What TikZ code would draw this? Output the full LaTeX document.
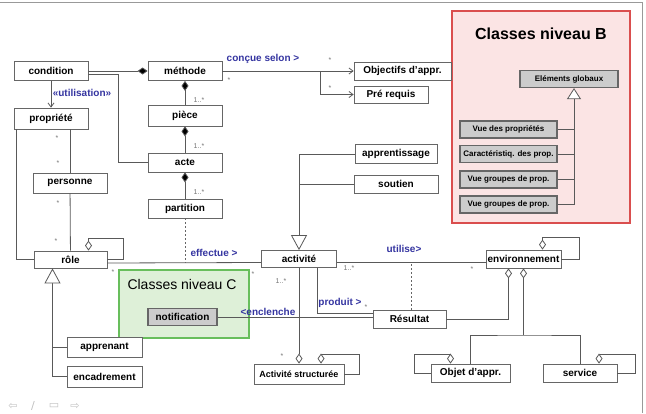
\documentclass[tikz,border=0pt]{standalone}
\usepackage{fontspec}
\setmainfont{Liberation Sans}
\newfontfamily\symbfont{DejaVu Sans}
\usetikzlibrary{arrows.meta}
\definecolor{labelblue}{RGB}{52,52,160}
\definecolor{pinkfill}{RGB}{251,228,228}
\definecolor{pinkline}{RGB}{218,78,78}
\definecolor{greenfill}{RGB}{222,240,216}
\definecolor{greenline}{RGB}{104,190,92}
\tikzstyle{classe}=[rectangle, draw=black!60, fill=white, line width=0.8, minimum width=74, minimum height=19, inner sep=1, font=\bfseries\fontsize{10}{12}\selectfont]
\tikzstyle{vue}=[rectangle, draw=black!60, fill=black!20, line width=1.2, minimum width=97, minimum height=17, inner sep=1, font=\bfseries\fontsize{8}{10}\selectfont]
\tikzstyle{niveau}=[rectangle, line width=1.2, inner sep=0]
\tikzstyle{titre}=[font=\bfseries\fontsize{16}{18}\selectfont]
\tikzstyle{etiq}=[text=labelblue, inner sep=0, font=\bfseries\fontsize{10}{12}\selectfont]
\tikzstyle{mult}=[text=black!55, inner sep=0, font=\fontsize{7}{8}\selectfont]
\tikzstyle{nav}=[text=black!25, inner sep=0, font=\symbfont\fontsize{11}{12}\selectfont]
\tikzstyle{lien}=[draw=black!65, line width=0.8]
\tikzstyle{fleche}=[lien, -{Straight Barb[length=4pt, width=6pt]}]
\tikzstyle{compo}=[lien, -{Diamond[fill=black, length=10pt, width=7pt]}]
\tikzstyle{agreg}=[lien, -{Diamond[fill=white, length=10pt, width=7pt]}]
\tikzstyle{herit}=[lien, -{Triangle[fill=white, length=15pt, width=16pt]}]
\tikzstyle{heritB}=[lien, -{Triangle[fill=white, length=11pt, width=14pt]}]
\tikzstyle{assocclasse}=[draw=black!60, line width=0.9, dash pattern=on 2pt off 2pt]

\begin{document}
\begin{tikzpicture}[x=1pt, y=-1pt]
		\useasboundingbox (0,0) rectangle (646,413);
		\draw[black!40, line width=1] (0,2) -- (642.5,2) -- (642.5,413);

		\node (niveauB) [niveau, draw=pinkline, fill=pinkfill, minimum width=178, minimum height=212] at (541,117) {};
		\node (titreB) [titre] at (541,34) {Classes niveau B};
		\node (niveauC) [niveau, draw=greenline, fill=greenfill, minimum width=130, minimum height=68] at (184,304) {};
		\node (titreC) [font=\fontsize{14}{16}\selectfont] at (182,284) {Classes niveau C};

		\node (condition) [classe] at (51,71) {condition};
		\node (methode) [classe] at (185,71) {méthode};
		\node (objectifs) [classe, minimum width=97, minimum height=18] at (402.5,71) {Objectifs d'appr.};
		\node (prerequis) [classe, minimum height=17] at (391,94.5) {Pré requis};
		\node (propriete) [classe, minimum height=21] at (51,118.5) {propriété};
		\node (piece) [classe, minimum height=21] at (185,115.5) {pièce};
		\node (acte) [classe] at (185,162.5) {acte};
		\node (partition) [classe] at (185,208.5) {partition};
		\node (personne) [classe, minimum height=20] at (70,183) {personne};
		\node (role) [classe, minimum width=73, minimum height=17] at (70.5,259.5) {rôle};
		\node (apprenant) [classe, minimum width=75, minimum height=20] at (104.5,347) {apprenant};
		\node (encadrement) [classe, minimum width=75, minimum height=21] at (104.5,376.5) {encadrement};
		\node (apprentissage) [classe, minimum width=82] at (396,154) {apprentissage};
		\node (soutien) [classe, minimum width=84, minimum height=18] at (396,184) {soutien};
		\node (activite) [classe, minimum width=75, minimum height=17] at (299,259) {activité};
		\node (resultat) [classe, minimum width=73, minimum height=18] at (409.5,319) {Résultat};
		\node (environnement) [classe, minimum width=75, minimum height=18] at (523.5,259) {environnement};
		\node (objet) [classe, minimum width=79, minimum height=18] at (470.5,373) {Objet d'appr.};
		\node (service) [classe, minimum height=18] at (580,373) {service};
		\node (actstruct) [classe, minimum width=90, minimum height=20, font=\bfseries\fontsize{9}{11}\selectfont] at (299,374) {Activité structurée};

		\node (notification) [vue, minimum width=69, font=\bfseries\fontsize{10}{12}\selectfont] at (182.5,317) {notification};
		\node (globaux) [vue, minimum width=98] at (569,79) {Eléments globaux};
		\node (vueprop) [vue] at (508.5,129.5) {Vue des propriétés};
		\node (caract) [vue] at (508.5,154) {Caractéristiq. des prop.};
		\node (vuegrA) [vue] at (508.5,179.5) {Vue groupes de prop.};
		\node (vuegrB) [vue] at (508.5,204.5) {Vue groupes de prop.};

		\coordinate (fork) at (320,71);
		\coordinate (effectue) at (185,263);
		\coordinate (utilise) at (411,262.5);
		\coordinate (envfork) at (523.5,335);

		\draw [compo] (condition.east) -- (methode.west);
		\draw [lien] ([yshift=-3pt]condition.east) -- ++(30,0) |- (acte.west);
		\draw [fleche] (condition) -- (propriete);
		\draw [compo] (piece) -- (methode);
		\draw [compo] (acte) -- (piece);
		\draw [compo] (partition) -- (acte);
		\draw [fleche] (methode) -- (objectifs);
		\draw [fleche] (fork) |- (prerequis.west);
		\draw [lien] ([xshift=3pt]propriete.south west) |- (role.west);
		\draw [lien] (propriete.south -| personne) -- (personne);
		\draw [lien] (personne) -- (role);
		\draw [agreg] (role.east) -- ++(16,0) -- ++(0,-21) -| ([xshift=18pt]role.north);
		\draw [lien] ([yshift=-3.5pt]role.east) -- ([yshift=-3.5pt]activite.west);
		\draw [assocclasse] (partition) -- (effectue);
		\draw [herit] (encadrement.west) -| ([xshift=-18pt]role.south);
		\draw [lien] (apprenant.west) -- ++(-15,0);
		\draw [herit] (apprentissage.west) -| (activite.north);
		\draw [lien] (soutien.west) -- ++(-55,0);
		\draw [agreg] (activite) -- (actstruct.north);
		\draw [agreg] (actstruct.east) -- ++(15,0) -- ++(0,-20) -| ([xshift=22pt]actstruct.north);
		\draw [lien] ([xshift=18pt]activite.south) |- ([yshift=6pt]resultat.west);
		\draw [lien] (notification.east) -- (notification.east -| resultat.west);
		\draw [lien] ([yshift=-3.5pt]activite.east) -- ([yshift=-3.5pt]environnement.west);
		\draw [assocclasse] (resultat.north -| utilise) -- (utilise);
		\draw [agreg] (environnement.east) -- ++(18,0) -- ++(0,-22) -| ([xshift=19pt]environnement.north);
		\draw [agreg] (resultat.east) -| ([xshift=-15pt]environnement.south);
		\draw [agreg] (envfork) -- (environnement.south);
		\draw [lien] (objet.north) |- (envfork) -| (service.north);
		\draw [agreg] (objet.west) -- ++(-16,0) -- ++(0,-19) -| ([xshift=-20pt]objet.north);
		\draw [agreg] (service.east) -- ++(18,0) -- ++(0,-19) -| ([xshift=19pt]service.north);
		\draw [heritB] (vuegrB.east) -| ([xshift=5pt]globaux.south);
		\draw [lien] (vueprop.east) -- ++(17,0);
		\draw [lien] (caract.east) -- ++(17,0);
		\draw [lien] (vuegrA.east) -- ++(17,0);

		\node (utilisationlbl) [etiq] at (82,93) {«utilisation»};
		\node (concuelbl) [etiq] at (263,59) {conçue selon >};
		\node (effectuelbl) [etiq] at (214,253) {effectue >};
		\node (utiliselbl) [etiq] at (404,249) {utilise>};
		\node (produitlbl) [etiq] at (340,303) {produit >};
		\node (enclenchelbl) [etiq] at (268,312) {<enclenche};

		\node (m1) [mult] at (229,80) {*};
		\node (m2) [mult] at (330,60) {*};
		\node (m3) [mult] at (330,88) {*};
		\node (m4) [mult] at (199,100) {1..*};
		\node (m5) [mult] at (199,146) {1..*};
		\node (m6) [mult] at (199,192) {1..*};
		\node (m7) [mult] at (57,138) {*};
		\node (m8) [mult] at (58,163) {*};
		\node (m9) [mult] at (58,203) {*};
		\node (m10) [mult] at (56,241) {*};
		\node (m11) [mult] at (113,272) {*};
		\node (m12) [mult] at (253,274) {*};
		\node (m13) [mult] at (281,281) {1..*};
		\node (m14) [mult] at (282,356) {*};
		\node (m15) [mult] at (366,307) {*};
		\node (m16) [mult] at (349,268) {1..*};
		\node (m17) [mult] at (472,269) {*};

		\node (navprev) [nav] at (13,406) {⇦};
		\node (navpen) [nav] at (33,406) {/};
		\node (navscreen) [nav] at (54,406) {▭};
		\node (navnext) [nav] at (75,406) {⇨};
	\end{tikzpicture}
\end{document}
